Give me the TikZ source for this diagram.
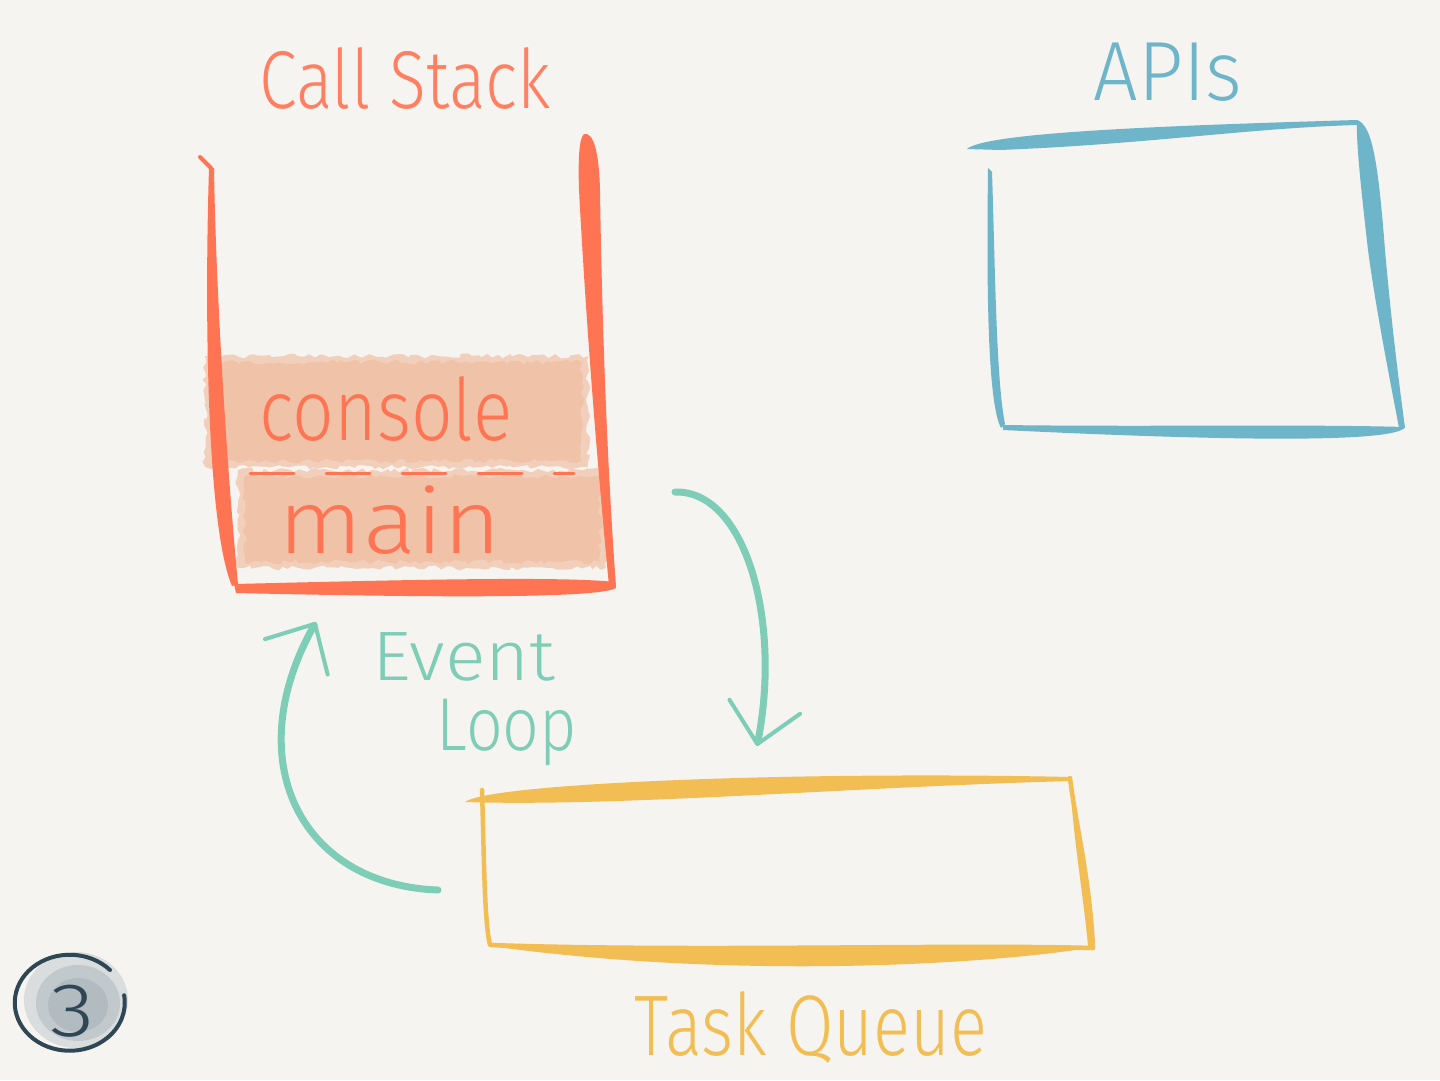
\documentclass[tikz,border=0pt]{standalone}
\usepackage{fontspec}
\usepackage{graphicx}
\IfFontExistsTF{Fira Sans Light}{\setmainfont{Fira Sans Light}}{\setmainfont{Lato}}
\usetikzlibrary{arrows.meta, decorations.pathmorphing}

\definecolor{paper}{HTML}{F5F4F0}
\definecolor{stackred}{HTML}{FF7452}
\definecolor{peach}{HTML}{F0C3A9}
\definecolor{peachlight}{HTML}{F2CFBB}
\definecolor{apiblue}{HTML}{6EB5CA}
\definecolor{loopgreen}{HTML}{7ECDB6}
\definecolor{queueyellow}{HTML}{F2BD52}
\definecolor{slate}{HTML}{2F4754}
\definecolor{smudge}{HTML}{8C9CA5}

\begin{document}
\begin{tikzpicture}[
    x=1pt, y=-1pt,
    brush/.style={line width=4.5pt, line cap=round, line join=round},
    frame/.style={decorate, decoration={random steps, segment length=5pt, amplitude=2.5pt}},
    word/.style={anchor=base, inner sep=0pt},
    loop/.style={loopgreen, line width=7pt, line cap=round,
        -{Straight Barb[length=38pt, width=72pt, line width=4pt, round]}}
]

% Paper
\fill[paper] (0,0) rectangle (1440,1080);
\path[use as bounding box] (0,0) rectangle (1440,1080);

% =========================
% Call Stack
% =========================
\coordinate (S1) at (200,157);
\coordinate (S2) at (211,168);
\coordinate (S3) at (236,590);
\coordinate (S4) at (614,585);
\coordinate (S5) at (584,134);

% frames
\fill[peachlight, frame] (205,356) rectangle (588,467);
\fill[peach, frame] (215,362) rectangle (582,461);
\fill[peachlight, frame] (238,470) rectangle (606,568);
\fill[peach, frame] (245,476) rectangle (600,562);
\draw[stackred, line width=3pt, line cap=round, dash pattern=on 44pt off 32pt]
    (250,473) -- (574,473);

% walls
\draw[stackred, line width=4pt, line cap=round] (S1) -- (S2);
\fill[stackred] (209,168) .. controls (204,330) and (208,530) .. (232,586)
    -- (238,584) .. controls (228,480) and (216,300) .. (214,168) -- cycle;
\fill[stackred] (234,584) .. controls (400,580) and (560,576) .. (615,582)
    -- (616,588) .. controls (600,598) and (450,598) .. (236,593) -- cycle;
\fill[stackred] (S5) .. controls (593,132) and (599,150) .. (600,190)
    .. controls (602,330) and (608,480) .. (616,586)
    -- (609,586) .. controls (596,450) and (586,320) .. (579,190)
    .. controls (578,160) and (579,138) .. (S5) -- cycle;

% labels
\node[word, stackred!92!white, font=\fontsize{82}{82}\selectfont] (stack title) at (405,108)
    {\scalebox{0.83}[1]{Call Stack}};
\node[word, stackred, font=\fontsize{86}{86}\selectfont] (console) at (386,440)
    {\scalebox{0.85}[1]{console}};
\node[word, stackred, font=\fontsize{90}{90}\selectfont] (main) at (390,553)
    {\scalebox{1.1}[1]{main}};

% =========================
% APIs
% =========================
\coordinate (A1) at (967,149);
\coordinate (A2) at (1357,120);
\coordinate (A3) at (1403,429);
\coordinate (A4) at (1003,425);
\coordinate (A5) at (988,168);

\fill[apiblue] (A1) .. controls (985,133) and (1150,126) .. (A2)
    -- (1357,125) .. controls (1250,128) and (1150,144) .. (1000,150) -- cycle;
\fill[apiblue] (A2) .. controls (1372,125) and (1378,160) .. (1385,250)
    .. controls (1392,330) and (1400,390) .. (1405,428)
    -- (1399,428) .. controls (1390,380) and (1376,310) .. (1368,250)
    .. controls (1360,180) and (1356,140) .. (A2) -- cycle;
\fill[apiblue] (A4) .. controls (1150,427) and (1300,424) .. (1405,427)
    .. controls (1398,442) and (1250,442) .. (1003,430) -- cycle;
\fill[apiblue] (A5) .. controls (987,260) and (986,400) .. (1001,428)
    -- (1005,424) .. controls (996,380) and (995,260) .. (992,172) -- cycle;

\node[word, apiblue, font=\fontsize{84}{84}\selectfont] (apis title) at (1168,100)
    {\scalebox{0.94}[1]{APIs}};

% =========================
% Task Queue
% =========================
\coordinate (Q1) at (482,790);
\coordinate (Q2) at (1070,778);
\coordinate (Q3) at (1093,948);
\coordinate (Q4) at (490,945);

\draw[queueyellow, brush] (Q1) .. controls (484,850) and (484,920) .. (Q4)
    .. controls (700,952) and (950,944) .. (Q3)
    .. controls (1090,880) and (1075,820) .. (Q2);
\fill[queueyellow] (465,802) .. controls (490,783) and (800,771) .. (1071,777)
    -- (1071,781) .. controls (850,787) and (620,807) .. (465,802) -- cycle;
\fill[queueyellow] (490,944) .. controls (700,953) and (950,942) .. (1094,947)
    .. controls (1010,962) and (750,982) .. (490,946) -- cycle;
\fill[queueyellow] (1070,778) .. controls (1078,830) and (1090,900) .. (1094,948)
    -- (1088,946) .. controls (1084,900) and (1072,830) .. (1070,778) -- cycle;

\node[word, queueyellow, font=\fontsize{86}{86}\selectfont] (queue title) at (811,1055)
    {\scalebox{0.8}[1]{Task Queue}};

% =========================
% Event Loop
% =========================
\coordinate (L1) at (675,492);
\coordinate (L2) at (757,746);
\coordinate (L3) at (438,890);
\coordinate (L4) at (316,622);

\draw[loop] (L1) .. controls (745,490) and (782,620) .. (L2);
\draw[loop] (L3) .. controls (300,885) and (238,760) .. (L4);

\node[word, loopgreen, font=\fontsize{70}{70}\selectfont] (event) at (464,680)
    {\scalebox{1.08}[1]{Event}};
\node[word, loopgreen, font=\fontsize{75}{75}\selectfont] (loop word) at (507,750)
    {\scalebox{0.86}[1]{Loop}};

% =========================
% Step 3
% =========================
\fill[smudge, opacity=0.25] (76,1000) ellipse [x radius=52, y radius=48];
\fill[smudge, opacity=0.3] (78,1003) ellipse [x radius=42, y radius=38];
\fill[smudge, opacity=0.3] (78,1005) ellipse [x radius=30, y radius=27];
\draw[slate, line width=4pt, line cap=round] (110,970) arc [start angle=-43, end angle=-369,
    x radius=55, y radius=48];
\node[word, slate, font=\fontsize{76}{76}\selectfont] (step) at (73,1036)
    {\scalebox{1.2}[1]{3}};

\end{tikzpicture}
\end{document}
